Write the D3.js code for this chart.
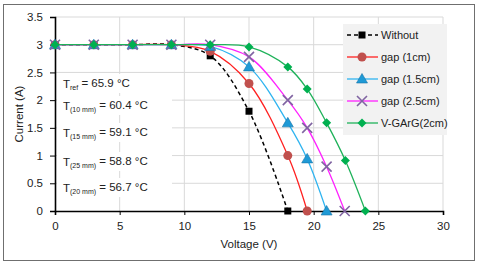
<!DOCTYPE html>
<html>
<head>
<meta charset="utf-8">
<script src="https://cdn.jsdelivr.net/npm/d3@7"></script>
<style>
  body { margin: 0; background: #fff; }
  text { font-family: "Liberation Sans", Arial, sans-serif; fill: #222; }
</style>
</head>
<body>
<svg id="chart" width="480" height="268"></svg>
<script>
// series: voltage (V) and current (A)
var withoutV = [0, 3, 6, 9, 12, 15, 18],
    withoutI = [3, 3, 3, 3, 2.8, 1.8, 0];
var gap1V = [0, 3, 6, 9, 12, 15, 18, 19.5],
    gap1I = [3, 3, 3, 3, 2.88, 2.3, 1.0, 0];
var gap15V = [0, 3, 6, 9, 12, 15, 18, 19.5, 21],
    gap15I = [3, 3, 3, 3, 2.97, 2.6, 1.59, 0.94, 0];
var gap25V = [0, 3, 6, 9, 12, 15, 18, 19.5, 21, 22.4],
    gap25I = [3, 3, 3, 3, 3, 2.78, 2.0, 1.5, 0.8, 0];
var vgargV = [0, 3, 6, 9, 12, 15, 18, 19.5, 21, 22.45, 24],
    vgargI = [3, 3, 3, 3, 3, 2.96, 2.6, 2.2, 1.59, 0.91, 0];

var seriesNames = ['Without', 'gap (1cm)', 'gap (1.5cm)', 'gap (2.5cm)', 'V-GArG(2cm)'];
var xTicks = [0, 5, 10, 15, 20, 25, 30];
var yTicks = [0, 0.5, 1, 1.5, 2, 2.5, 3, 3.5];
var tempLabels = [
    ['ref', '65.9'],
    ['(10 mm)', '60.4'],
    ['(15 mm)', '59.1'],
    ['(25 mm)', '58.8'],
    ['(20 mm)', '56.7']
];

var series = [
    { name: seriesNames[0], v: withoutV, i: withoutI, line: '#000000', fill: '#000000', marker: 'square', dash: '4,3' },
    { name: seriesNames[1], v: gap1V, i: gap1I, line: '#ff2020', fill: '#c0504d', marker: 'circle' },
    { name: seriesNames[2], v: gap15V, i: gap15I, line: '#2fb4f0', fill: '#1f9ad6', marker: 'triangle' },
    { name: seriesNames[3], v: gap25V, i: gap25I, line: '#ff20ff', fill: '#8064a2', marker: 'cross' },
    { name: seriesNames[4], v: vgargV, i: vgargI, line: '#1fb25a', fill: '#00b050', marker: 'diamond' }
];

var svg = d3.select('#chart');

// outer chart border
svg.append('rect')
    .attr('x', 3.5).attr('y', 4.5)
    .attr('width', 471).attr('height', 256)
    .attr('fill', '#fff')
    .attr('stroke', '#6f6f6f')
    .attr('stroke-width', 1);

var x = d3.scaleLinear().domain([0, 30]).range([55, 443]),
    y = d3.scaleLinear().domain([0, 3.5]).range([211, 17]);

// gridlines
var grid = svg.append('g').attr('stroke', '#d9d9d9').attr('stroke-width', 1);
grid.selectAll('.gx').data(xTicks.slice(1)).enter().append('line')
    .attr('x1', function(d) { return x(d); }).attr('x2', function(d) { return x(d); })
    .attr('y1', y(0)).attr('y2', y(3.5));
grid.selectAll('.gy').data(yTicks.slice(1)).enter().append('line')
    .attr('x1', x(0)).attr('x2', x(30))
    .attr('y1', function(d) { return y(d); }).attr('y2', function(d) { return y(d); });

// temperature notes, each on its own white box
var noteY = [84, 106, 133, 162, 188];
var notes = svg.append('g');
tempLabels.forEach(function(t, k) {
    var g = notes.append('g').attr('transform', 'translate(63,' + noteY[k] + ')');
    g.append('rect').attr('x', -6).attr('y', -10).attr('width', 115).attr('height', 19).attr('fill', '#fff');
    var txt = g.append('text').attr('dy', '0.35em').style('font-size', '11.5px');
    txt.append('tspan').text('T');
    txt.append('tspan').attr('dy', '0.3em').style('font-size', '7px').text(t[0]);
    txt.append('tspan').attr('dy', '-0.3em').text(' = ' + t[1] + ' \u00b0C');
});

// axes
var xAxis = svg.append('g').attr('transform', 'translate(0,' + y(0) + ')')
    .call(d3.axisBottom(x).tickValues(xTicks).tickSize(4).tickSizeOuter(4).tickPadding(7));
var yAxis = svg.append('g').attr('transform', 'translate(' + x(0) + ',0)')
    .call(d3.axisLeft(y).tickValues(yTicks).tickSize(5).tickSizeOuter(5).tickPadding(7)
        .tickFormat(function(d) { return d; }));
[xAxis, yAxis].forEach(function(a) {
    a.select('.domain').attr('stroke', '#000').attr('stroke-width', 1.6);
    a.selectAll('.tick line').attr('stroke', '#000').attr('stroke-width', 1);
    a.selectAll('.tick text').style('font-size', '11.5px').style('font-family', '"Liberation Sans", Arial, sans-serif').attr('fill', '#222');
});

svg.append('text').attr('x', 249).attr('y', 248).attr('text-anchor', 'middle')
    .style('font-size', '11.5px').text('Voltage (V)');
svg.append('text').attr('transform', 'translate(23,114) rotate(-90)').attr('text-anchor', 'middle')
    .style('font-size', '11.5px').text('Current (A)');

// curves and markers
var line = d3.line()
    .x(function(d) { return x(d[0]); })
    .y(function(d) { return y(d[1]); })
    .curve(d3.curveCatmullRom.alpha(0.5));

function drawMarker(g, s, cx, cy) {
    if (s.marker === 'square') {
        g.append('rect').attr('x', cx - 3.5).attr('y', cy - 3.5).attr('width', 7).attr('height', 7).attr('fill', s.fill);
    } else if (s.marker === 'circle') {
        g.append('circle').attr('cx', cx).attr('cy', cy).attr('r', 4.5).attr('fill', s.fill);
    } else if (s.marker === 'triangle') {
        g.append('path').attr('d', 'M' + cx + ',' + (cy - 5.5) + 'L' + (cx + 5.5) + ',' + (cy + 4) + 'L' + (cx - 5.5) + ',' + (cy + 4) + 'Z')
            .attr('fill', s.fill).attr('stroke', '#1773a8').attr('stroke-width', 0.6);
    } else if (s.marker === 'cross') {
        g.append('path').attr('d', 'M' + (cx - 5) + ',' + (cy - 5) + 'L' + (cx + 5) + ',' + (cy + 5) + 'M' + (cx + 5) + ',' + (cy - 5) + 'L' + (cx - 5) + ',' + (cy + 5))
            .attr('stroke', s.fill).attr('stroke-width', 1.6);
    } else {
        g.append('path').attr('d', 'M' + cx + ',' + (cy - 4.5) + 'L' + (cx + 4.5) + ',' + cy + 'L' + cx + ',' + (cy + 4.5) + 'L' + (cx - 4.5) + ',' + cy + 'Z')
            .attr('fill', s.fill);
    }
}

series.forEach(function(s) {
    var pts = s.v.map(function(v, k) { return [v, s.i[k]]; });
    var g = svg.append('g');
    g.append('path').attr('d', line(pts)).attr('fill', 'none')
        .attr('stroke', s.line).attr('stroke-width', s.dash ? 1.5 : 1.3)
        .attr('stroke-dasharray', s.dash || null);
    pts.forEach(function(p) { drawMarker(g, s, x(p[0]), y(p[1])); });
});

// legend
var legend = svg.append('g');
legend.append('rect').attr('x', 343).attr('y', 24).attr('width', 104).attr('height', 111).attr('fill', '#f2f2f2');
series.forEach(function(s, k) {
    var ly = 35 + k * 22;
    legend.append('line').attr('x1', 347).attr('x2', 378).attr('y1', ly).attr('y2', ly)
        .attr('stroke', s.line).attr('stroke-width', s.dash ? 1.5 : 1.3).attr('stroke-dasharray', s.dash || null);
    drawMarker(legend, s, 362, ly);
    legend.append('text').attr('x', 381).attr('y', ly).attr('dy', '0.35em')
        .style('font-size', '11px').text(s.name);
});
</script>
</body>
</html>
